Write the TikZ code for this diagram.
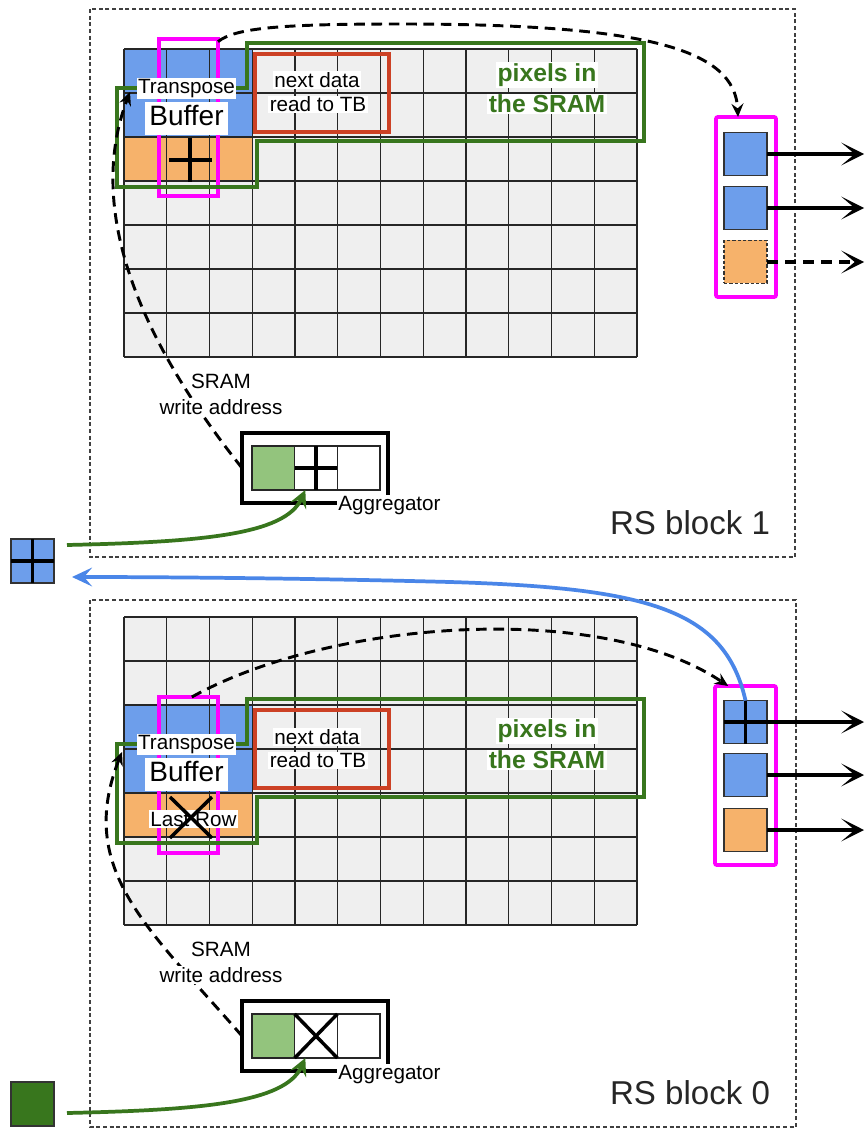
\documentclass[tikz,border=0pt]{standalone}
\usepackage{fontspec}
\setmainfont{Liberation Sans}
\usetikzlibrary{arrows.meta}
\definecolor{cellgray}{HTML}{EFEFEF}
\definecolor{tbblue}{HTML}{6D9EEB}
\definecolor{tborange}{HTML}{F6B26B}
\definecolor{dgreen}{HTML}{38761D}
\definecolor{lgreen}{HTML}{93C47D}
\definecolor{rbox}{HTML}{CC4125}
\definecolor{mag}{HTML}{FF00FF}
\definecolor{arrblue}{HTML}{4A86E8}
\tikzset{
  gridline/.style={draw=black!85,line width=1.1pt},
  lbl/.style={fill=white,inner sep=1pt,font=\fontsize{15.5}{18}\selectfont},
  biglbl/.style={fill=white,inner xsep=3pt,inner ysep=1pt,text height=17pt,text depth=6pt,font=\fontsize{21}{24}\selectfont},
  sramlbl/.style={fill=white,inner sep=1pt,text=dgreen,font=\bfseries\fontsize{18.5}{21}\selectfont},
  blocklbl/.style={font=\fontsize{24.8}{28}\selectfont,inner sep=0,text=black!85},
  magbox/.style={draw=mag,line width=2.9pt,inner sep=0,outer sep=0},
  greenout/.style={draw=dgreen,line width=3.3pt},
  redbox/.style={draw=rbox,line width=2.8pt},
  blockbox/.style={draw=black!75,line width=0.9pt,dash pattern=on 3pt off 2pt},
  sq/.style={draw=black!80,line width=1.1pt,minimum width=32.25pt,minimum height=32.25pt,inner sep=0,outer sep=0},
  aggbox/.style={draw=black,line width=3.3pt,minimum width=109.5pt,minimum height=52.5pt,inner sep=0,outer sep=0},
  aggcell/.style={draw=black!85,fill=white,line width=1.1pt,minimum width=32pt,minimum height=33pt,inner sep=0,outer sep=0},
  crossline/.style={draw=black,line width=2.6pt},
  ctrlarrow/.style={draw=black,line width=2.2pt,dash pattern=on 8pt off 5pt,-{Stealth[length=10pt,width=9pt,inset=3.5pt]}},
  outarrow/.style={draw=black,line width=3pt,-{Stealth[length=17pt,width=17pt,inset=10pt]}},
  greenarrow/.style={draw=dgreen,line width=2.8pt,-{Stealth[length=13pt,width=13pt,inset=5pt]}},
  bluearrow/.style={draw=arrblue,line width=2.8pt,-{Stealth[length=15pt,width=14pt,inset=6pt]}},
}
\begin{document}
\begin{tikzpicture}[x=0.75pt,y=-0.75pt]
\useasboundingbox (0,0) rectangle (865,1130);
\fill[white] (0,0) rectangle (865,1130);

% ================= RS block 1 (top) =================
\draw[blockbox] (90,9) rectangle (795,557);
\fill[cellgray] (124,49) rectangle (637,357);
\fill[tbblue] (124,49) rectangle (252.25,137);
\fill[tborange] (124,137) rectangle (252.25,181);
\foreach \i in {0,...,12} \draw[gridline] ({124+42.75*\i},49) -- ({124+42.75*\i},357);
\foreach \j in {0,...,7} \draw[gridline] (124,{49+44*\j}) -- (637,{49+44*\j});
\node[magbox,minimum width=44.25pt,minimum height=117.75pt] (tb1) at (188.5,117.5) {};
\draw[greenout] (117,88) -- (247,88) -- (247,43) -- (644,43) -- (644,141) -- (257,141) -- (257,187) -- (117,187) -- cycle;
\draw[redbox] (255,54) rectangle (389,132);
\node[lbl] (tp1) at (186.5,88.5) {Transpose};
\node[biglbl] (bf1) at (186.5,118.5) {Buffer};
\node[lbl] (nd1a) at (317,80) {next data};
\node[lbl] (nd1b) at (318,104.5) {read to TB};
\node[sramlbl] (px1a) at (547,75) {pixels in};
\node[sramlbl] (px1b) at (547,104) {the SRAM};
\draw[crossline] (169,160) -- (212,160) (190,138) -- (190,182);

% output column
\node[magbox,rounded corners=1.5pt,minimum width=45pt,minimum height=135pt] (om1) at (746,207) {};
\node[sq,fill=tbblue] (o1a) at (745.5,154) {};
\node[sq,fill=tbblue] (o1b) at (745.5,208) {};
\node[sq,fill=tborange,dash pattern=on 2.5pt off 1.5pt] (o1c) at (745.5,262) {};
\coordinate (e1a) at (864,154);
\coordinate (e1b) at (864,208);
\coordinate (e1c) at (864,262);
\draw[outarrow] (o1a.east) -- (e1a);
\draw[outarrow] (o1b.east) -- (e1b);
\draw[outarrow,dash pattern=on 8pt off 5.5pt] (o1c.east) -- (e1c);
\draw[ctrlarrow] ([yshift=-2pt]tb1.north east) .. controls (235,28) and (280,24) .. (400,24) .. controls (650,24) and (735,50) .. ([xshift=-6pt]om1.north);

% aggregator
\node[aggbox] (ag1) at (315,468) {};
\node[aggcell,fill=lgreen] (a1a) at (273.3,468) {};
\node[aggcell] (a1b) at (316,468) {};
\node[aggcell] (a1c) at (358.7,468) {};
\draw[crossline] (a1b.west) -- (a1b.east) (a1b.north) -- (a1b.south);
\node[lbl] (agl1) at (389.5,506) {Aggregator};
\coordinate (w1) at (130,92);
\draw[ctrlarrow] (ag1.west) .. controls (140,340) and (85,210) .. (w1);
\node[lbl] (sw1a) at (221,381) {SRAM};
\node[lbl] (sw1b) at (221,407) {write address};

% input
\node[sq,fill=tbblue,minimum height=33pt] (s1) at (32.5,561) {};
\draw[crossline] (s1.north) -- (s1.south) (s1.west) -- (s1.east);
\coordinate (g1s) at (67,545);
\draw[greenarrow] (g1s) .. controls (200,542) and (285,535) .. ([xshift=-8pt]a1b.south);
\node[blocklbl] (rs1) at (690,523) {RS block 1};

% ================= RS block 0 (bottom) =================
\draw[blockbox] (90,600) rectangle (796,1127);
\fill[cellgray] (124,617) rectangle (637,925);
\fill[tbblue] (124,705) rectangle (252.25,793);
\fill[tborange] (124,793) rectangle (252.25,837);
\foreach \i in {0,...,12} \draw[gridline] ({124+42.75*\i},617) -- ({124+42.75*\i},925);
\foreach \j in {0,...,7} \draw[gridline] (124,{617+44*\j}) -- (637,{617+44*\j});
\node[magbox,minimum width=44.25pt,minimum height=117pt] (tb0) at (188.5,775) {};
\draw[greenout] (117,744) -- (247,744) -- (247,699) -- (644,699) -- (644,797) -- (257,797) -- (257,843) -- (117,843) -- cycle;
\draw[redbox] (255,710) rectangle (389,788);
\node[lbl] (tp0) at (186.5,744.5) {Transpose};
\node[biglbl] (bf0) at (186.5,774.5) {Buffer};
\node[lbl] (nd0a) at (317,737) {next data};
\node[lbl] (nd0b) at (318,760.5) {read to TB};
\node[sramlbl] (px0a) at (547,731) {pixels in};
\node[sramlbl] (px0b) at (547,760) {the SRAM};
\node[lbl] (lr0) at (193.5,819) {Last Row};
\draw[crossline] (170,797) -- (212,838) (212,797) -- (170,838);

% output column
\node[magbox,rounded corners=1.5pt,minimum width=45.75pt,minimum height=134.25pt] (om0) at (745.5,775.5) {};
\node[sq,fill=tbblue] (o0a) at (745.5,722) {};
\node[sq,fill=tbblue] (o0b) at (745.5,775) {};
\node[sq,fill=tborange] (o0c) at (745.5,830) {};
\draw[crossline] (o0a.north) -- (o0a.south) (o0a.west) -- (o0a.east);
\coordinate (e0a) at (864,722);
\coordinate (e0b) at (864,775);
\coordinate (e0c) at (864,830);
\draw[outarrow] (o0a.east) -- (e0a);
\draw[outarrow] (o0b.east) -- (e0b);
\draw[outarrow] (o0c.east) -- (e0c);
\draw[ctrlarrow] ([xshift=2.5pt]tb0.north) .. controls (330,620) and (600,600) .. ([xshift=-13pt]om0.north);

% aggregator
\node[aggbox] (ag0) at (315,1036) {};
\node[aggcell,fill=lgreen] (a0a) at (273.3,1036) {};
\node[aggcell] (a0b) at (316,1036) {};
\node[aggcell] (a0c) at (358.7,1036) {};
\draw[crossline] (a0b.north west) -- (a0b.south east) (a0b.north east) -- (a0b.south west);
\node[lbl] (agl0) at (389.5,1074.5) {Aggregator};
\coordinate (w0) at (122,752);
\draw[ctrlarrow] (ag0.west) .. controls (150,930) and (75,870) .. (w0);
\node[lbl] (sw0a) at (221,949.5) {SRAM};
\node[lbl] (sw0b) at (221,975) {write address};

% input
\node[sq,fill=dgreen,minimum height=33pt] (s0) at (32.5,1104) {};
\coordinate (g0s) at (67,1113);
\draw[greenarrow] (g0s) .. controls (200,1110) and (285,1103) .. ([xshift=-8pt]a0b.south);
\node[blocklbl] (rs0) at (690,1093) {RS block 0};

% feedback arrow
\coordinate (b0e) at (72,577);
\draw[bluearrow] (o0a.north) .. controls (725,610) and (650,588) .. (450,582) .. controls (300,578) and (150,577) .. (b0e);
\end{tikzpicture}
\end{document}
